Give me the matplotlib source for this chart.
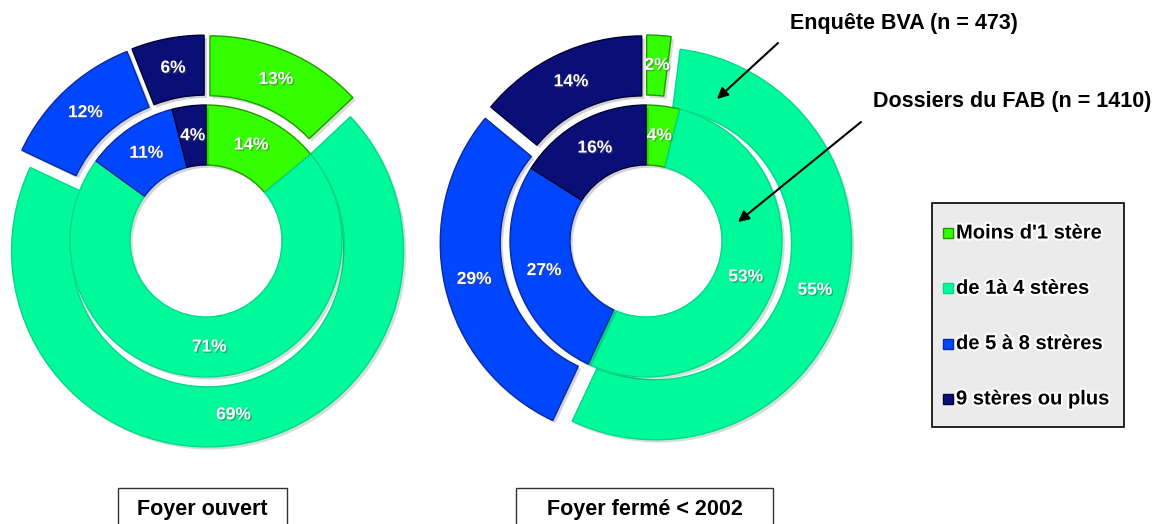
import matplotlib.pyplot as plt
import matplotlib.patches as mpatches
import matplotlib.patheffects as pe

plt.rcParams['font.family'] = ['Liberation Sans', 'DejaVu Sans']

categories = ["Moins d'1 stère", "de 1à 4 stères", "de 5 à 8 strères", "9 stères ou plus"]
# outer ring = Enquête BVA, inner ring = Dossiers du FAB
ouvert_bva = [13, 69, 12, 6]
ouvert_fab = [14, 71, 11, 4]
ferme_bva = [2, 55, 29, 14]
ferme_fab = [4, 53, 27, 16]
panels = ['Foyer ouvert', 'Foyer fermé < 2002']

colors = ['#33ff00', '#00fa9a', '#0046ff', '#0a0f78']
edges = ['#229900', '#00d98c', '#0a2a9a', '#000033']

W, H = 1155, 524
fig = plt.figure(figsize=(W / 100, H / 100), dpi=100)
ax = fig.add_axes([0, 0, 1, 1])

txt_fx = [pe.SimplePatchShadow(offset=(1, -1), alpha=0.45), pe.Normal()]
wedge_fx = [pe.SimplePatchShadow(offset=(2, -2), alpha=0.18), pe.Normal()]


def donut(cx, cy, outer, inner):
    tp = dict(color='white', fontweight='bold', fontsize=12.5, path_effects=txt_fx)
    w1, _, _ = ax.pie(outer, radius=196, center=(cx, cy), startangle=90,
                      counterclock=False, explode=[10] * len(outer),
                      colors=colors, autopct='%.0f%%', pctdistance=0.847,
                      wedgeprops=dict(width=60, linewidth=1), textprops=tp)
    w2, _, _ = ax.pie(inner, radius=136, center=(cx, cy), startangle=90,
                      counterclock=False, colors=colors, autopct='%.0f%%',
                      pctdistance=0.78,
                      wedgeprops=dict(width=60, linewidth=1), textprops=tp)
    for w in (w1, w2):
        for wedge, ec in zip(w, edges):
            wedge.set_edgecolor(ec)
            wedge.set_path_effects(wedge_fx)


donut(206, H - 241, ouvert_bva, ouvert_fab)
donut(646, H - 241, ferme_bva, ferme_fab)

ax.set_xlim(0, W)
ax.set_ylim(0, H)
ax.set_aspect('equal')
ax.axis('off')

# annotations for the two rings
ax.text(790, H - 24, 'Enquête BVA (n = 473)', ha='left', va='center',
        fontsize=15.5, fontweight='bold')
ax.annotate('', xy=(717, H - 99), xytext=(778, H - 43),
            arrowprops=dict(arrowstyle='-|>', color='black', lw=1.5,
                            mutation_scale=16, shrinkA=0, shrinkB=0))
ax.text(873, H - 101, 'Dossiers du FAB (n = 1410)', ha='left', va='center',
        fontsize=15.5, fontweight='bold')
ax.annotate('', xy=(738, H - 222), xytext=(861, H - 122),
            arrowprops=dict(arrowstyle='-|>', color='black', lw=1.5,
                            mutation_scale=16, shrinkA=0, shrinkB=0))

# panel titles in boxes at the bottom
for (x0, bw), name in zip([(118, 169), (516, 257)], panels):
    ax.add_patch(mpatches.Rectangle((x0, -10), bw, H - 488 + 10, fill=False,
                                    edgecolor='#333333', lw=1, clip_on=True))
    ax.text(x0 + bw / 2, H - 509, name, ha='center', va='center',
            fontsize=15.5, fontweight='bold')

# legend box drawn by hand
ax.add_patch(mpatches.Rectangle((932, H - 427), 192, 224, facecolor='#ebebeb',
                                edgecolor='black', lw=1.2))
glow = [pe.withStroke(linewidth=3, foreground='white')]
for i, (lab, c, e) in enumerate(zip(categories, colors, edges)):
    y = H - (233 + 55.3 * i)
    ax.add_patch(mpatches.Rectangle((943, y - 5), 10, 10, facecolor=c,
                                    edgecolor=e, lw=1))
    ax.text(956, y, lab, ha='left', va='center', fontsize=14.5,
            fontweight='bold', path_effects=glow)

fig.savefig('out.png', dpi=100)
